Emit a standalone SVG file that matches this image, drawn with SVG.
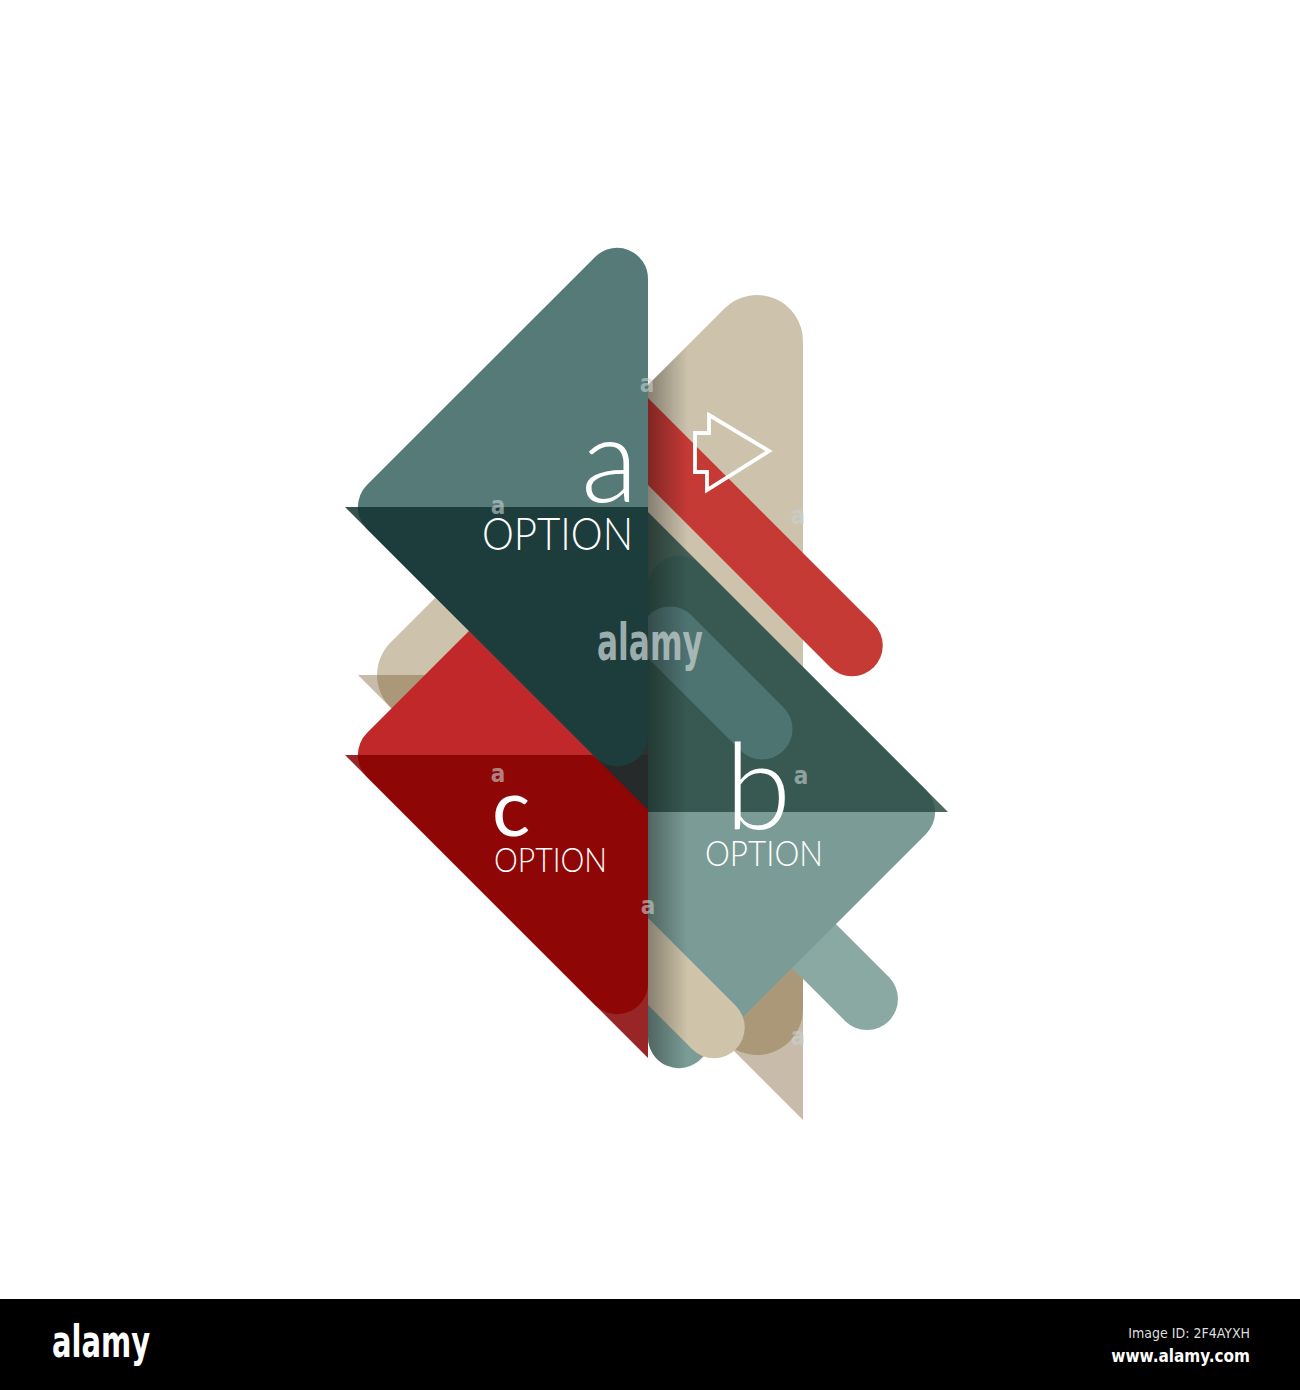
<svg xmlns="http://www.w3.org/2000/svg" width="1300" height="1390" viewBox="0 0 1300 1390">
<defs>
<style>
.lbl{font-family:Lato,'Open Sans','DejaVu Sans',sans-serif;fill:#ffffff;}
.thin{font-weight:300;}
.wm{font-family:'Liberation Sans Narrow','DejaVu Sans Condensed','Liberation Sans',sans-serif;font-weight:700;fill:#c9d1d1;opacity:.6;text-anchor:middle;font-size:24px;}
.cap{fill:none;stroke-linecap:round;}
</style>
<path id="triA" d="M366.92,485.08 L595.08,256.92 A31,31 0 0 1 648,278.84 L648,735.16 A31,31 0 0 1 595.08,757.08 L366.92,528.92 A31,31 0 0 1 366.92,485.08 Z"/>
<path id="triB" d="M700.92,564.92 L926.08,790.08 A31,31 0 0 1 926.08,833.92 L700.92,1059.08 A31,31 0 0 1 648,1037.16 L648,586.84 A31,31 0 0 1 700.92,564.92 Z"/>
<path id="triBeige" d="M390.53,642.47 L724.47,308.53 A46,46 0 0 1 803,341.05 L803,1008.95 A46,46 0 0 1 724.47,1041.47 L390.53,707.53 A46,46 0 0 1 390.53,642.47 Z"/>
<clipPath id="rightHalf"><rect x="648" y="0" width="652" height="1300"/></clipPath>
<clipPath id="foldClip"><use href="#triBeige"/><use href="#triB"/></clipPath>
<linearGradient id="fold" x1="0" x2="1" y1="0" y2="0">
<stop offset="0" stop-color="#000" stop-opacity=".35"/>
<stop offset="1" stop-color="#000" stop-opacity="0"/>
</linearGradient>
</defs>
<rect x="0" y="0" width="1300" height="1390" fill="#ffffff"/>

<g id="shape-beige">
<use href="#triBeige" fill="#cdc3ad"/>
<polygon points="358,675 803,675 803,1120" fill="#7d5e32" opacity=".42"/>
</g>

<g id="bar-red" clip-path="url(#rightHalf)">
<line class="cap" x1="600" y1="393.5" x2="852" y2="645.5" stroke="#c63a36" stroke-width="61.5"/>
</g>

<g id="bar-teal">
<line class="cap" x1="720" y1="852" x2="867" y2="999" stroke="#8aa9a3" stroke-width="62"/>
</g>

<g id="option-c">
<g transform="translate(0,248)">
<use href="#triA" fill="#c0282a"/>
<polygon points="345,507 648,507 648,810" fill="#860000" opacity=".85"/>
</g>
<text class="lbl" x="492" y="836" font-size="80" font-weight="400">c</text>
<text class="lbl thin" x="494" y="872" font-size="33" textLength="113" lengthAdjust="spacingAndGlyphs">OPTION</text>
</g>

<g id="option-b">
<use href="#triB" fill="#7b9c96"/>
<polygon points="648,512 948,812 648,812" fill="#2b4e45" opacity=".85"/>
<g clip-path="url(#rightHalf)">
<line class="cap" x1="670" y1="637" x2="762" y2="729" stroke="#4e7472" stroke-width="61"/>
</g>
<text class="lbl thin" x="725" y="829" font-size="120">b</text>
<text class="lbl thin" x="705" y="866" font-size="35" textLength="118" lengthAdjust="spacingAndGlyphs">OPTION</text>
</g>

<g id="bar-beige" clip-path="url(#rightHalf)">
<line class="cap" x1="600" y1="913.5" x2="714" y2="1027.5" stroke="#cfc4aa" stroke-width="61.5"/>
</g>

<rect x="648" y="330" width="40" height="790" fill="url(#fold)" clip-path="url(#foldClip)"/>

<g id="option-a">
<use href="#triA" fill="#557a78"/>
<polygon points="345,507 648,507 648,810" fill="#143131" opacity=".85"/>
<text class="lbl thin" x="638" y="502" font-size="118" text-anchor="end">a</text>
<text class="lbl thin" x="482" y="550" font-size="45" textLength="151" lengthAdjust="spacingAndGlyphs">OPTION</text>
</g>

<g id="arrow-icon">
<polygon points="709,415 769,451 707,490 707,472 695,472 695,433 709,433" fill="none" stroke="#ffffff" stroke-width="3.8" stroke-linejoin="miter"/>
</g>

<g id="watermarks">
<text x="650" y="660" font-family="'Liberation Sans Narrow','DejaVu Sans Condensed','Liberation Sans',sans-serif" font-weight="700" font-size="52" fill="#bcc8c8" opacity=".8" text-anchor="middle" textLength="106" lengthAdjust="spacingAndGlyphs">alamy</text>
<text class="wm" x="647" y="392">a</text>
<text class="wm" x="498" y="514">a</text>
<text class="wm" x="798" y="524">a</text>
<text class="wm" x="498" y="782">a</text>
<text class="wm" x="801" y="784">a</text>
<text class="wm" x="648" y="914">a</text>
<text class="wm" x="798" y="1045">a</text>
</g>

<g id="footer">
<rect x="0" y="1299" width="1300" height="91" fill="#000000"/>
<text x="52" y="1357" font-family="'Liberation Sans Narrow','DejaVu Sans Condensed','Liberation Sans',sans-serif" font-weight="700" font-size="44" fill="#ffffff" textLength="98" lengthAdjust="spacingAndGlyphs">alamy</text>
<text x="1250" y="1338" font-family="'DejaVu Sans Condensed','DejaVu Sans',sans-serif" font-size="14" fill="#dddddd" text-anchor="end">Image ID: 2F4AYXH</text>
<text x="1250" y="1362" font-family="'DejaVu Sans Condensed','DejaVu Sans',sans-serif" font-weight="700" font-size="17" fill="#ffffff" text-anchor="end">www.alamy.com</text>
</g>
</svg>
